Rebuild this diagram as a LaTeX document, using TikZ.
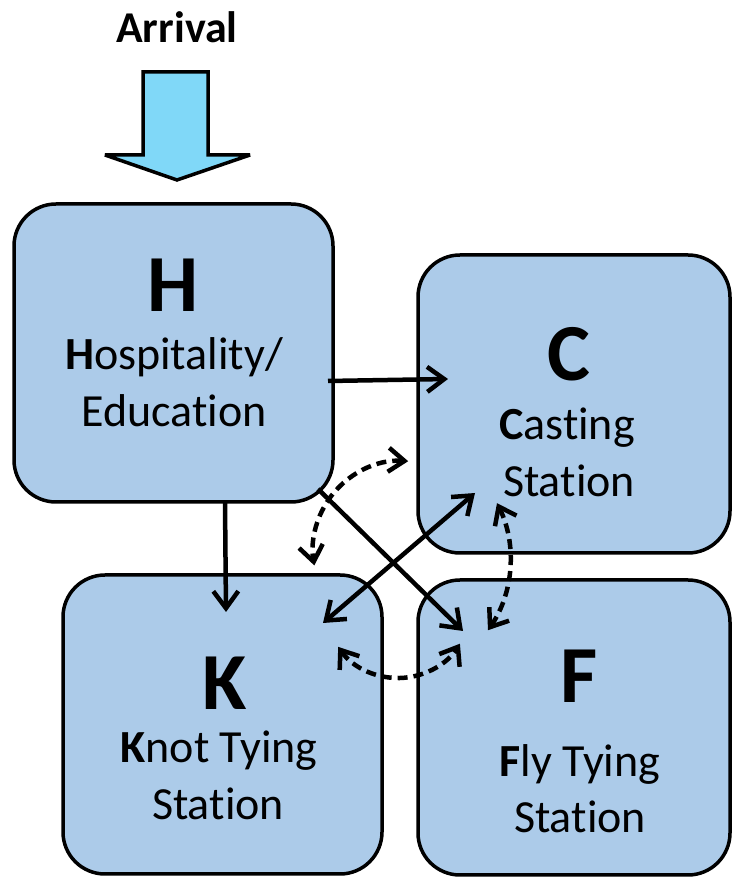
\documentclass[tikz,border=0pt]{standalone}
\usepackage{fontspec}
\setmainfont{Carlito}[Ligatures=NoCommon]
\usetikzlibrary{arrows.meta}
\definecolor{boxblue}{HTML}{ACCBE9}
\definecolor{arrcyan}{HTML}{80D8F8}
\newcommand{\nolig}{\kern0pt }
\tikzset{
  stationbox/.style={draw=black, line width=3.5pt, fill=boxblue, rounded corners=42pt, inner sep=0pt},
  bigletter/.style={anchor=base, inner sep=0pt, font=\fontsize{81}{81}\selectfont\bfseries},
  bodytext/.style={anchor=base, inner sep=0pt, font=\fontsize{46}{57}\selectfont},
  flow/.style={line width=4.5pt, -{Straight Barb[length=17pt,width=25pt]}},
  flowboth/.style={line width=4.5pt, {Straight Barb[length=17pt,width=25pt]}-{Straight Barb[length=17pt,width=25pt]}},
  dashflow/.style={line width=4.5pt, dash pattern=on 10pt off 6pt, {Straight Barb[length=16pt,width=24pt]}-{Straight Barb[length=16pt,width=24pt]}}
}
\begin{document}
\begin{tikzpicture}[x=1pt,y=1pt]
\useasboundingbox (0,0) rectangle (732,878);
\fill[white] (0,0) rectangle (732,878);
% Arrival
\node[anchor=base, inner sep=0pt, font=\fontsize{44}{53}\selectfont\bfseries] (arr) at (177,835) {Arrival};
\draw[line width=3.5pt, fill=arrcyan, line join=miter, miter limit=2]
  (143,806) -- (208,806) -- (208,723) -- (250,723) -- (177,698) -- (105,723) -- (143,723) -- cycle;
% boxes
\node[stationbox, minimum width=319pt, minimum height=298pt] (H) at (173.5,525) {};
\node[stationbox, minimum width=312pt, minimum height=298pt] (C) at (574,474) {};
\node[stationbox, minimum width=319pt, minimum height=299pt] (K) at (222.5,153.5) {};
\node[stationbox, minimum width=312pt, minimum height=295pt] (F) at (574,150.5) {};
% texts
\node[bigletter] (Hl) at (173,566) {H};
\node[bodytext] (Ht1) at (174,508) {\textbf{H}ospitality/};
\node[bodytext] (Ht2) at (174,451) {Educat\nolig ion};
\node[bigletter] (Cl) at (569,497) {C};
\node[bodytext] (Ct1) at (567,438) {\textbf{C}asting};
\node[bodytext] (Ct2) at (569,381) {Stat\nolig ion};
\node[bigletter] (Kl) at (225,168) {K};
\node[bodytext] (Kt1) at (219,115) {\textbf{K}not Tying};
\node[bodytext] (Kt2) at (218,58) {Stat\nolig ion};
\node[bigletter] (Fl) at (579,175) {F};
\node[bodytext] (Ft1) at (580,101) {\textbf{F}ly Tying};
\node[bodytext] (Ft2) at (580,45) {Stat\nolig ion};
% solid connectors
\draw[flow] ([shift={(154.5,-28)}]H.center) -- ([shift={(-126,25)}]C.center);
\draw[flow] ([shift={(51.5,-150)}]H.center) -- ([shift={(3.5,112.5)}]K.center);
\draw[flow] ([shift={(144.5,-136)}]H.center) -- ([shift={(-111,96.5)}]F.center);
\draw[flowboth] ([shift={(100.5,101.5)}]K.center) -- ([shift={(-99,-89)}]C.center);
% dashed curved connectors
\coordinate (kc) at (408.2,416.8);
\draw[dashflow] (kc) arc[start angle=86, end angle=190, radius=89];
\coordinate (fc) at (488,247.8);
\draw[dashflow] (fc) arc[start angle=-34.4, end angle=26.3, radius=126];
\coordinate (kf) at (338.2,231.1);
\draw[dashflow] (kf) arc[start angle=215, end angle=328, radius=73];
\end{tikzpicture}
\end{document}
